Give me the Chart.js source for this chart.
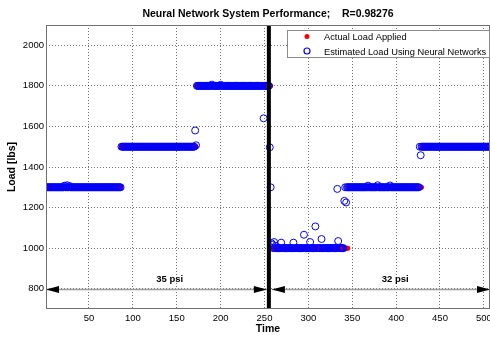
<!DOCTYPE html>
<html>
<head>
<meta charset="utf-8">
<script src="https://cdn.jsdelivr.net/npm/chart.js@4/dist/chart.umd.min.js"></script>
<style>
  html, body { margin: 0; padding: 0; background: #fff; }
  #wrap { width: 490px; height: 337px; }
</style>
</head>
<body>
<div id="wrap"><canvas id="loadChart"></canvas></div>
<script>
// load levels, as runs of time steps
const actualStart = [1, 87, 173, 258, 346, 430];
const actualEnd   = [86, 172, 257, 345, 429, 507];
const actualLoad  = [1300, 1500, 1800, 1000, 1300, 1500];

const estStart = [1, 87, 173, 258, 342, 429];
const estEnd   = [86, 170, 255, 340, 426, 507];
const estLoad  = [1300, 1500, 1800, 1000, 1300, 1500];

// estimates that leave the level (replace the run value at that time)
const outlierTime = [22, 25, 28, 171, 172, 190, 200, 249, 256, 257, 258, 259, 261, 263, 269, 283,
                     295, 302, 308, 315, 333, 334, 341, 343, 368, 379, 393, 427, 428];
const outlierLoad = [1308, 1310, 1306, 1580, 1507, 1806, 1805, 1640, 1497, 1300, 1024, 1016, 1030, 1012, 1027, 1027,
                     1066, 1030, 1107, 1045, 1292, 1035, 1233, 1225, 1308, 1310, 1309, 1500, 1458];

const xTicks = [50, 100, 150, 200, 250, 300, 350, 400, 450, 500];
const yTicks = [800, 1000, 1200, 1400, 1600, 1800, 2000];

const switchTime = 255;
const pressureText = ['35 psi', '32 psi'];
const pressureFrom = [1, 255];
const pressureTo   = [255, 507];
const pressureLoad = 800;

const FONT = '"Liberation Sans", Arial, sans-serif';

function runsToMap(starts, ends, loads) {
    const m = new Map();
    starts.forEach((s, i) => {
        for (let t = s; t <= ends[i]; t++) m.set(t, loads[i]);
    });
    return m;
}

const actualMap = runsToMap(actualStart, actualEnd, actualLoad);
const estMap = runsToMap(estStart, estEnd, estLoad);
outlierTime.forEach((t, i) => estMap.set(t, outlierLoad[i]));

const toPoints = m => [...m.entries()].sort((a, b) => a[0] - b[0]).map(([x, y]) => ({x, y}));

const decorations = {
    id: 'decorations',
    afterDatasetsDraw(chart) {
        const {ctx, chartArea: a, scales: {x, y}} = chart;
        ctx.save();

        // pressure arrows along 800
        const ay = Math.round(y.getPixelForValue(pressureLoad)) + 0.5;
        const sx = x.getPixelForValue(switchTime);
        const labelX = [142, 399];
        pressureText.forEach((txt, i) => {
            let x0 = x.getPixelForValue(pressureFrom[i]);
            let x1 = x.getPixelForValue(pressureTo[i]);
            if (pressureFrom[i] === switchTime) x0 = sx + 3;
            if (pressureTo[i] === switchTime) x1 = sx - 2;
            x0 = Math.max(x0, a.left);
            x1 = Math.min(x1, a.right);
            ctx.strokeStyle = '#9a9a9a';
            ctx.lineWidth = 1.5;
            ctx.beginPath();
            ctx.moveTo(x0, ay);
            ctx.lineTo(x1, ay);
            ctx.stroke();
            ctx.fillStyle = '#000';
            ctx.beginPath();
            ctx.moveTo(x0, ay);
            ctx.lineTo(x0 + 13, ay - 3.5);
            ctx.lineTo(x0 + 13, ay + 3.5);
            ctx.closePath();
            ctx.fill();
            ctx.beginPath();
            ctx.moveTo(x1, ay);
            ctx.lineTo(x1 - 13, ay - 3.5);
            ctx.lineTo(x1 - 13, ay + 3.5);
            ctx.closePath();
            ctx.fill();
            ctx.font = 'bold 9.5px ' + FONT;
            ctx.textAlign = 'center';
            ctx.textBaseline = 'middle';
            ctx.fillText(txt, x.getPixelForValue(labelX[i]), ay - 10);
        });

        // pressure change marker
        ctx.strokeStyle = '#000';
        ctx.lineWidth = 4;
        ctx.beginPath();
        ctx.moveTo(sx, a.top);
        ctx.lineTo(sx, a.bottom);
        ctx.stroke();

        // axes box
        ctx.strokeStyle = '#707070';
        ctx.lineWidth = 1;
        ctx.strokeRect(a.left + 0.5, a.top + 0.5, a.right - a.left - 1, a.bottom - a.top - 1);

        // legend box
        ctx.fillStyle = '#fff';
        ctx.fillRect(287, 30, 203, 28);
        ctx.strokeStyle = '#8a8a8a';
        ctx.strokeRect(287.5, 30.5, 202, 27);
        ctx.fillStyle = '#ff0000';
        ctx.beginPath();
        ctx.arc(307, 36.5, 2.5, 0, Math.PI * 2);
        ctx.fill();
        ctx.strokeStyle = '#0000ff';
        ctx.lineWidth = 1.2;
        ctx.beginPath();
        ctx.arc(307, 51, 3, 0, Math.PI * 2);
        ctx.stroke();
        ctx.fillStyle = '#000';
        ctx.font = '9.3px ' + FONT;
        ctx.textAlign = 'left';
        ctx.textBaseline = 'middle';
        ctx.fillText('Actual Load Applied', 324, 37);
        ctx.fillText('Estimated Load Using Neural Networks', 324, 52);

        // title centred over the axes
        ctx.font = 'bold 10.5px ' + FONT;
        ctx.textAlign = 'center';
        ctx.fillText('Neural Network System Performance;    R=0.98276', (a.left + a.right) / 2, 14);

        ctx.restore();
    }
};

const gridOpts = { color: 'rgba(0, 0, 0, 0.55)', drawTicks: false, lineWidth: 1 };
const borderOpts = { display: false, dash: [1, 2] };

new Chart(document.getElementById('loadChart'), {
    type: 'scatter',
    data: {
        datasets: [
            {
                label: 'Actual Load Applied',
                data: toPoints(actualMap),
                pointRadius: 2.5,
                pointBorderWidth: 0,
                backgroundColor: '#ff0000',
                borderColor: '#ff0000',
                order: 2,
                clip: 0
            },
            {
                label: 'Estimated Load Using Neural Networks',
                data: toPoints(estMap),
                pointRadius: 3.5,
                pointBorderWidth: 1,
                backgroundColor: 'rgba(0, 0, 0, 0)',
                borderColor: '#0000ff',
                order: 1,
                clip: 0
            }
        ]
    },
    options: {
        responsive: true,
        maintainAspectRatio: false,
        animation: false,
        events: [],
        layout: { autoPadding: false, padding: { top: 25, right: 0, left: 0, bottom: 0 } },
        plugins: {
            legend: { display: false },
            title: { display: false },
            tooltip: { enabled: false }
        },
        scales: {
            x: {
                type: 'linear',
                min: 1,
                max: 507,
                afterBuildTicks: s => { s.ticks = xTicks.map(v => ({value: v})); },
                afterFit: s => { s.height = 28; s.paddingLeft = 0; s.paddingRight = 0; },
                ticks: { font: { size: 9.5, family: FONT }, color: '#000', padding: 4, maxRotation: 0, autoSkip: false, callback: v => String(v) },
                grid: gridOpts,
                border: borderOpts,
                title: { display: true, text: 'Time', color: '#000', font: { size: 10.5, weight: 'bold', family: FONT }, padding: { top: 0, bottom: 2 } }
            },
            y: {
                min: 700,
                max: 2100,
                afterBuildTicks: s => { s.ticks = yTicks.map(v => ({value: v})); },
                afterFit: s => { s.width = 46; s.paddingTop = 0; s.paddingBottom = 0; },
                ticks: { font: { size: 9.5, family: FONT }, color: '#000', padding: 2, callback: v => String(v) },
                grid: gridOpts,
                border: borderOpts,
                title: { display: true, text: 'Load [lbs]', color: '#000', font: { size: 10.5, weight: 'bold', family: FONT }, padding: { top: 6, bottom: 0 } }
            }
        }
    },
    plugins: [decorations]
});
</script>
</body>
</html>
